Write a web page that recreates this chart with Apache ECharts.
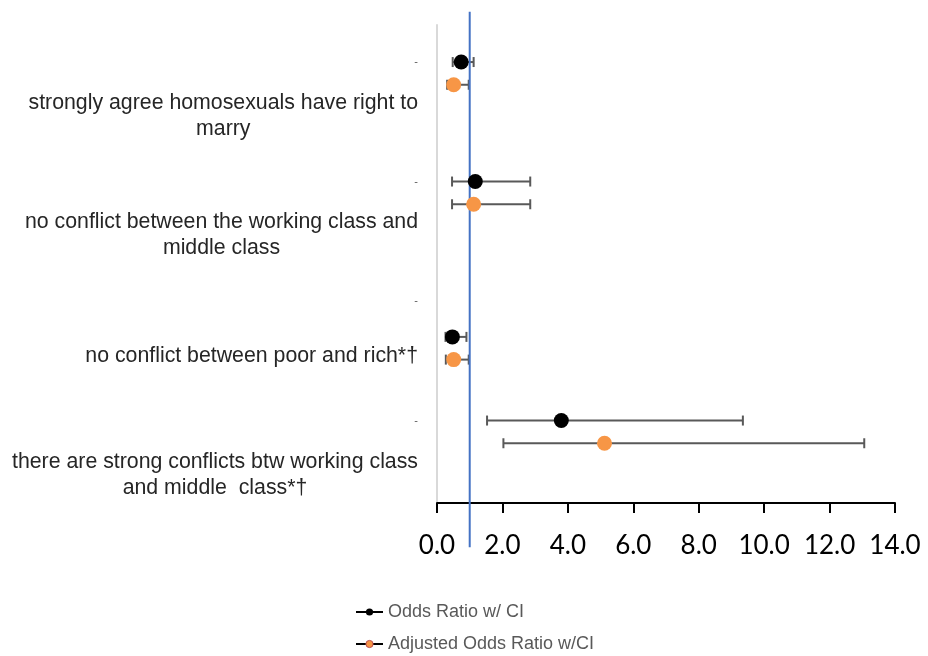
<!DOCTYPE html>
<html>
<head>
<meta charset="utf-8">
<script src="https://cdn.jsdelivr.net/npm/echarts@6/dist/echarts.min.js"></script>
<style>
  html, body { margin: 0; padding: 0; background: #ffffff; }
  #chart { width: 928px; height: 656px; }
</style>
</head>
<body>
<div id="chart"></div>
<script>
// Survey items (top to bottom), with their line breaks
const categories = [
  'strongly agree homosexuals have right to\nmarry',
  'no conflict between the working class and\nmiddle class',
  'no conflict between poor and rich*\u2020',
  'there are strong conflicts btw working class\nand middle  class*\u2020'
];

// Crude odds ratios with 95% CI
const orValue = [0.74, 1.17, 0.47, 3.80];
const orLow   = [0.48, 0.46, 0.26, 1.53];
const orHigh  = [1.12, 2.85, 0.90, 9.35];

// Adjusted odds ratios with 95% CI
const adjValue = [0.51, 1.12, 0.51, 5.12];
const adjLow   = [0.31, 0.46, 0.27, 2.03];
const adjHigh  = [0.97, 2.85, 0.97, 13.06];

// Row placement of each estimate on the vertical value scale (0..4, one unit per item)
const orRow  = [0.31, 1.31, 2.61, 3.31];
const adjRow = [0.50, 1.50, 2.80, 3.50];

// Row of each item's tick mark and of its caption
const tickRow  = [0.31, 1.31, 2.31, 3.31];
const labelRow = [0.765, 1.755, 2.77, 3.77];

// Null-effect reference line (OR = 1) and its vertical extent
const refValue = 1;
const refSpan = [-0.11, 4.37];

// X axis ticks
const xMin = 0, xMax = 14, xStep = 2;

const seriesNames = ['Odds Ratio w/ CI', 'Adjusted Odds Ratio w/CI'];

const labelMap = {};
tickRow.forEach(v => { labelMap[v.toFixed(3)] = '{d|-}'; });
labelRow.forEach((v, i) => {
  labelMap[v.toFixed(3)] = categories[i].split('\n').map(s => '{c|' + s + '}').join('\n');
});

function errorBar(params, api) {
  const y = api.value(2);
  const a = api.coord([api.value(0), y]);
  const b = api.coord([api.value(1), y]);
  const cap = 5;
  const style = { stroke: '#595959', lineWidth: 2 };
  return {
    type: 'group',
    children: [
      { type: 'line', shape: { x1: a[0], y1: a[1], x2: b[0], y2: b[1] }, style: style },
      { type: 'line', shape: { x1: a[0], y1: a[1] - cap, x2: a[0], y2: a[1] + cap }, style: style },
      { type: 'line', shape: { x1: b[0], y1: b[1] - cap, x2: b[0], y2: b[1] + cap }, style: style }
    ]
  };
}

const legendBase = {
  orient: 'vertical',
  left: 350,
  itemWidth: 27, itemHeight: 9,
  textStyle: { fontFamily: 'Liberation Sans', fontSize: 18, lineHeight: 18, color: '#595959' },
  lineStyle: { color: '#000000', width: 2, opacity: 1 }
};

const chart = echarts.init(document.getElementById('chart'), null, { renderer: 'canvas' });

chart.setOption({
  animation: false,
  backgroundColor: '#ffffff',
  grid: { left: 437, right: 33, top: 25, bottom: 153, containLabel: false },
  xAxis: {
    type: 'value',
    min: xMin, max: xMax, interval: xStep,
    axisLine: { show: true, onZero: false, lineStyle: { color: '#000000', width: 2 } },
    axisTick: { show: true, length: 10, lineStyle: { color: '#000000', width: 2 } },
    splitLine: { show: false },
    axisLabel: {
      formatter: v => v.toFixed(1),
      fontFamily: 'Lato', fontSize: 26, color: '#000000', margin: 30
    }
  },
  yAxis: {
    type: 'value',
    min: 0, max: 4, inverse: true,
    axisLine: { show: true, onZero: false, lineStyle: { color: '#d9d9d9', width: 2 } },
    axisTick: { show: false },
    splitLine: { show: false },
    axisLabel: {
      customValues: tickRow.concat(labelRow),
      margin: 19,
      formatter: v => labelMap[Number(v).toFixed(3)] || '',
      rich: {
        c: { fontFamily: 'Liberation Sans', fontSize: 21.3, lineHeight: 26, color: '#262626', align: 'center' },
        d: { fontFamily: 'Liberation Sans', fontSize: 11, color: '#595959' }
      }
    }
  },
  legend: [
    Object.assign({}, legendBase, {
      top: 598,
      data: [{ name: seriesNames[0] }]
    }),
    Object.assign({}, legendBase, {
      top: 630,
      data: [{ name: seriesNames[1], itemStyle: { borderColor: '#C0504D', borderWidth: 1 } }]
    })
  ],
  series: [
    {
      name: 'ci-or', type: 'custom', renderItem: errorBar, z: 2,
      encode: { x: [0, 1], y: 2 },
      data: orLow.map((lo, i) => [lo, orHigh[i], orRow[i]])
    },
    {
      name: 'ci-adj', type: 'custom', renderItem: errorBar, z: 2,
      encode: { x: [0, 1], y: 2 },
      data: adjLow.map((lo, i) => [lo, adjHigh[i], adjRow[i]])
    },
    {
      name: 'ref', type: 'line', clip: false, symbol: 'none', z: 3,
      lineStyle: { color: '#4472C4', width: 2 },
      data: refSpan.map(y => [refValue, y])
    },
    {
      name: seriesNames[0], type: 'line', z: 5,
      symbol: 'circle', symbolSize: 15,
      itemStyle: { color: '#000000' },
      lineStyle: { width: 0, opacity: 0 },
      data: orValue.map((v, i) => [v, orRow[i]])
    },
    {
      name: seriesNames[1], type: 'line', z: 5,
      symbol: 'circle', symbolSize: 15,
      itemStyle: { color: '#F79646' },
      lineStyle: { width: 0, opacity: 0 },
      data: adjValue.map((v, i) => [v, adjRow[i]])
    }
  ]
});
</script>
</body>
</html>
